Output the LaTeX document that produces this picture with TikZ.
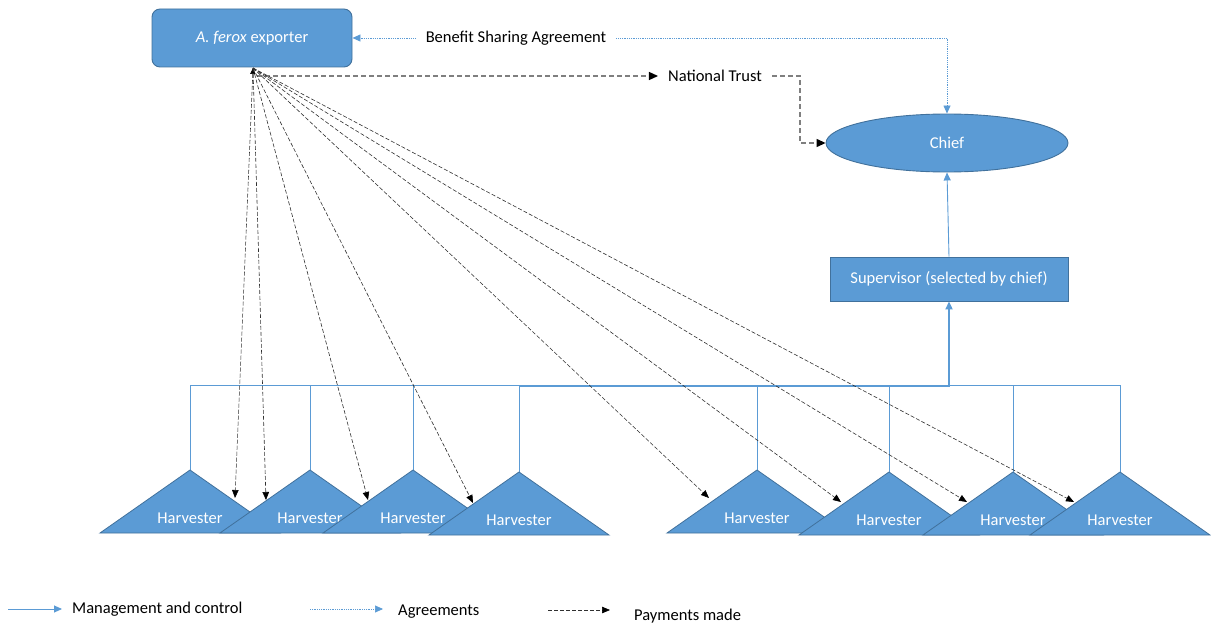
\documentclass[tikz,border=0pt]{standalone}
\usepackage{fontspec}
\setmainfont{Carlito}
\usetikzlibrary{arrows.meta,shapes.geometric,calc}
\definecolor{bfill}{HTML}{5B9BD5}
\definecolor{bdraw}{HTML}{41719C}
\definecolor{lblue}{HTML}{5B9BD5}
\definecolor{ntgray}{HTML}{7F7F7F}
\definecolor{paygray}{HTML}{303030}
\tikzset{
  every node/.style={font=\fontsize{16.5}{19}\selectfont},
  shapebox/.style={fill=bfill, draw=bdraw, line width=0.9pt, text=white},
  wtext/.style={text=white, inner sep=0pt},
  btext/.style={text=black, inner sep=10pt},
  tip/.style={-{Triangle[length=8pt,width=7pt]}},
  agree/.style={draw=lblue, line width=0.7pt, dash pattern=on 1pt off 0.8pt, -{Triangle[length=8pt,width=7pt,lblue]}},
  trust/.style={draw=ntgray, line width=1.3pt, dash pattern=on 5pt off 3pt, -{Triangle[length=9pt,width=8pt,black]}},
  pay/.style={draw=paygray, line width=0.6pt, dash pattern=on 4pt off 2pt, -{Triangle[length=8pt,width=6.5pt,black]}},
  mgmt/.style={draw=lblue, line width=0.9pt},
  mgmtbold/.style={draw=lblue, line width=2pt},
  harvtri/.style={fill=bfill, draw=bdraw, line width=0.8pt},
}
\begin{document}
\begin{tikzpicture}[x=1pt,y=-1pt]
\useasboundingbox (0,0) rectangle (1211,626);

% exporter
\node[shapebox, rounded corners=8pt, minimum width=200pt, minimum height=58pt, inner sep=0pt] (exp) at (252,38) {\textit{A. ferox} exporter};
\coordinate (o) at (253,68);
\coordinate (o2) at (257,76);

% chief
\node[shapebox, ellipse, minimum width=242pt, minimum height=58pt, inner sep=0pt] (chief) at (947,143) {Chief};

% supervisor
\node[shapebox, rectangle, minimum width=238pt, minimum height=44pt, inner sep=0pt] (sup) at (949,279) {Supervisor (selected by chief)};

% texts
\node[btext] (bsa) at (516,38) {Benefit Sharing Agreement};
\node[btext] (nt) at (715,76) {National Trust};

% agreements
\draw[agree] (bsa.west) -- (exp.east);
\draw[agree] (bsa.east) -- (947,38) -- (chief.north);

% national trust
\draw[trust] (o2) -- (nt.west);
\draw[trust] (nt.east) -- (800,76) |- (chief.west);

% supervisor to chief
\draw[mgmt, tip] (sup.north) -- (chief.south);

% bus
\draw[mgmt] (190,385) -- (1120,385);
\foreach \x/\ay in {190/470,310/470,413/470,519/472,757/470,889/472,1013/472,1120/472}{
  \draw[mgmt] (\x,385) -- (\x,\ay);
}
\coordinate (bj) at (949,386);
\draw[mgmtbold, tip] (519,386) -- (bj) -- (sup.south);

% harvesters
\foreach \i/\x/\ay in {1/190/470,2/310/470,3/413/470,4/519/472,5/757/470,6/889/472,7/1013/472,8/1120/472}{
  \filldraw[harvtri] (\x-90,\ay+63) -- (\x,\ay) -- (\x+90,\ay+63) -- cycle;
  \node[wtext] (h\i) at (\x,\ay+48) {Harvester};
  \coordinate (ha\i) at (\x,\ay);
}

% payments
\coordinate (t1) at (235,498);
\coordinate (t2) at (266,500);
\coordinate (t3) at (368,500);
\coordinate (t4) at (473,503);
\coordinate (t5) at (709,498);
\coordinate (t6) at (841,502);
\coordinate (t7) at (967,502);
\coordinate (t8) at (1074,502);
\draw[pay, {Triangle[length=6pt,width=5pt,black]}-{Triangle[length=8pt,width=6.5pt,black]}] (o) -- (t1);
\foreach \k in {2,...,8}{
  \draw[pay] (o) -- (t\k);
}

% legend
\coordinate (l1a) at (8,609); \coordinate (l1b) at (62,609);
\draw[mgmt, tip] (l1a) -- (l1b);
\node[anchor=west, inner sep=0pt] (lt1) at (72,609) {Management and control};
\coordinate (l2a) at (310,609); \coordinate (l2b) at (383,609);
\draw[agree] (l2a) -- (l2b);
\node[anchor=west, inner sep=0pt] (lt2) at (398,612) {Agreements};
\coordinate (l3a) at (548,610); \coordinate (l3b) at (610,610);
\draw[pay] (l3a) -- (l3b);
\node[anchor=west, inner sep=0pt] (lt3) at (634,616) {Payments made};
\end{tikzpicture}
\end{document}
